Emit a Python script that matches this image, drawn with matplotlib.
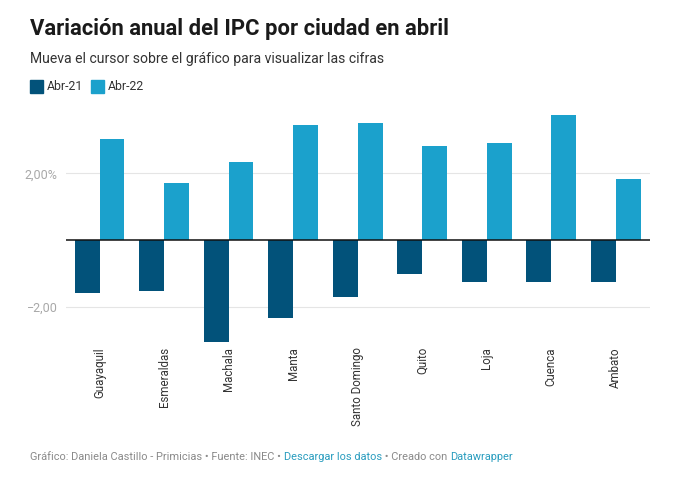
import matplotlib
matplotlib.use("Agg")
import matplotlib.pyplot as plt
import numpy as np
from matplotlib.patches import Rectangle

plt.rcParams['font.family'] = ['Roboto', 'DejaVu Sans']

cities = ["Guayaquil", "Esmeraldas", "Machala", "Manta", "Santo Domingo",
          "Quito", "Loja", "Cuenca", "Ambato"]
abr21 = [-1.58, -1.52, -3.05, -2.33, -1.70, -1.03, -1.27, -1.27, -1.27]
abr22 = [3.03, 1.70, 2.33, 3.45, 3.52, 2.82, 2.91, 3.76, 1.82]
series_names = ["Abr-21", "Abr-22"]
yticks = [-2, 2]
ytick_labels = ["\u22122,00", "2,00%"]

c21 = "#02527a"
c22 = "#1ba1cc"

W, H = 677, 483
fig = plt.figure(figsize=(W / 100, H / 100), dpi=100)

ax_left, ax_right = 66, 650
ax_top, ax_bottom = 110, 343
ax = fig.add_axes([ax_left / W, 1 - ax_bottom / H, (ax_right - ax_left) / W,
                   (ax_bottom - ax_top) / H])

x = np.arange(len(cities))
bw = 0.385
ax.bar(x - bw / 2, abr21, width=bw, color=c21, zorder=3)
ax.bar(x + bw / 2, abr22, width=bw, color=c22, zorder=3)
ax.axhline(0, color="#111111", lw=1.1, zorder=4)
for t in yticks:
    ax.axhline(t, color="#e5e5e5", lw=0.8, zorder=1)

ax.set_xlim(-0.52, len(cities) - 1 + 0.53)
ax.set_ylim(-3.09, 3.9)
for s in ax.spines.values():
    s.set_visible(False)
ax.set_yticks(yticks)
ax.set_yticklabels(ytick_labels, color="#a8a8a8", fontsize=9)
ax.tick_params(axis="y", length=0, pad=6)
ax.set_xticks(x)
ax.set_xticklabels(cities, rotation=90, fontsize=8.3, color="#333333",
                   va="top", ha="center")
ax.tick_params(axis="x", length=0, pad=3)

fig.text(30 / W, 1 - 35 / H, "Variación anual del IPC por ciudad en abril",
         fontsize=15.8, fontweight="bold", color="#1a1a1a", ha="left", va="baseline")
fig.text(30 / W, 1 - 63 / H, "Mueva el cursor sobre el gráfico para visualizar las cifras",
         fontsize=10.05, color="#333333", ha="left", va="baseline")

leg_y = 86
for name, col, lx in zip(series_names, [c21, c22], [30, 91]):
    fig.patches.append(Rectangle((lx / W, 1 - (leg_y + 6.5) / H), 13 / W, 13 / H,
                                 transform=fig.transFigure, color=col))
    fig.text((lx + 17) / W, 1 - leg_y / H, name, fontsize=8.8, color="#333333",
             ha="left", va="center")

foot_y = 460
gray = "#8a8a8a"
link = "#2a9dbf"
parts = [("Gráfico: Daniela Castillo - Primicias • Fuente: INEC • ", gray),
         ("Descargar los datos", link),
         (" • Creado con ", gray),
         ("Datawrapper", link)]
fig.canvas.draw()
renderer = fig.canvas.get_renderer()
xpos = 30
for txt, col in parts:
    t = fig.text(xpos / W, 1 - foot_y / H, txt, fontsize=7.9, color=col,
                 ha="left", va="baseline")
    bb = t.get_window_extent(renderer=renderer)
    xpos += bb.width

fig.savefig("out.png", dpi=100)
